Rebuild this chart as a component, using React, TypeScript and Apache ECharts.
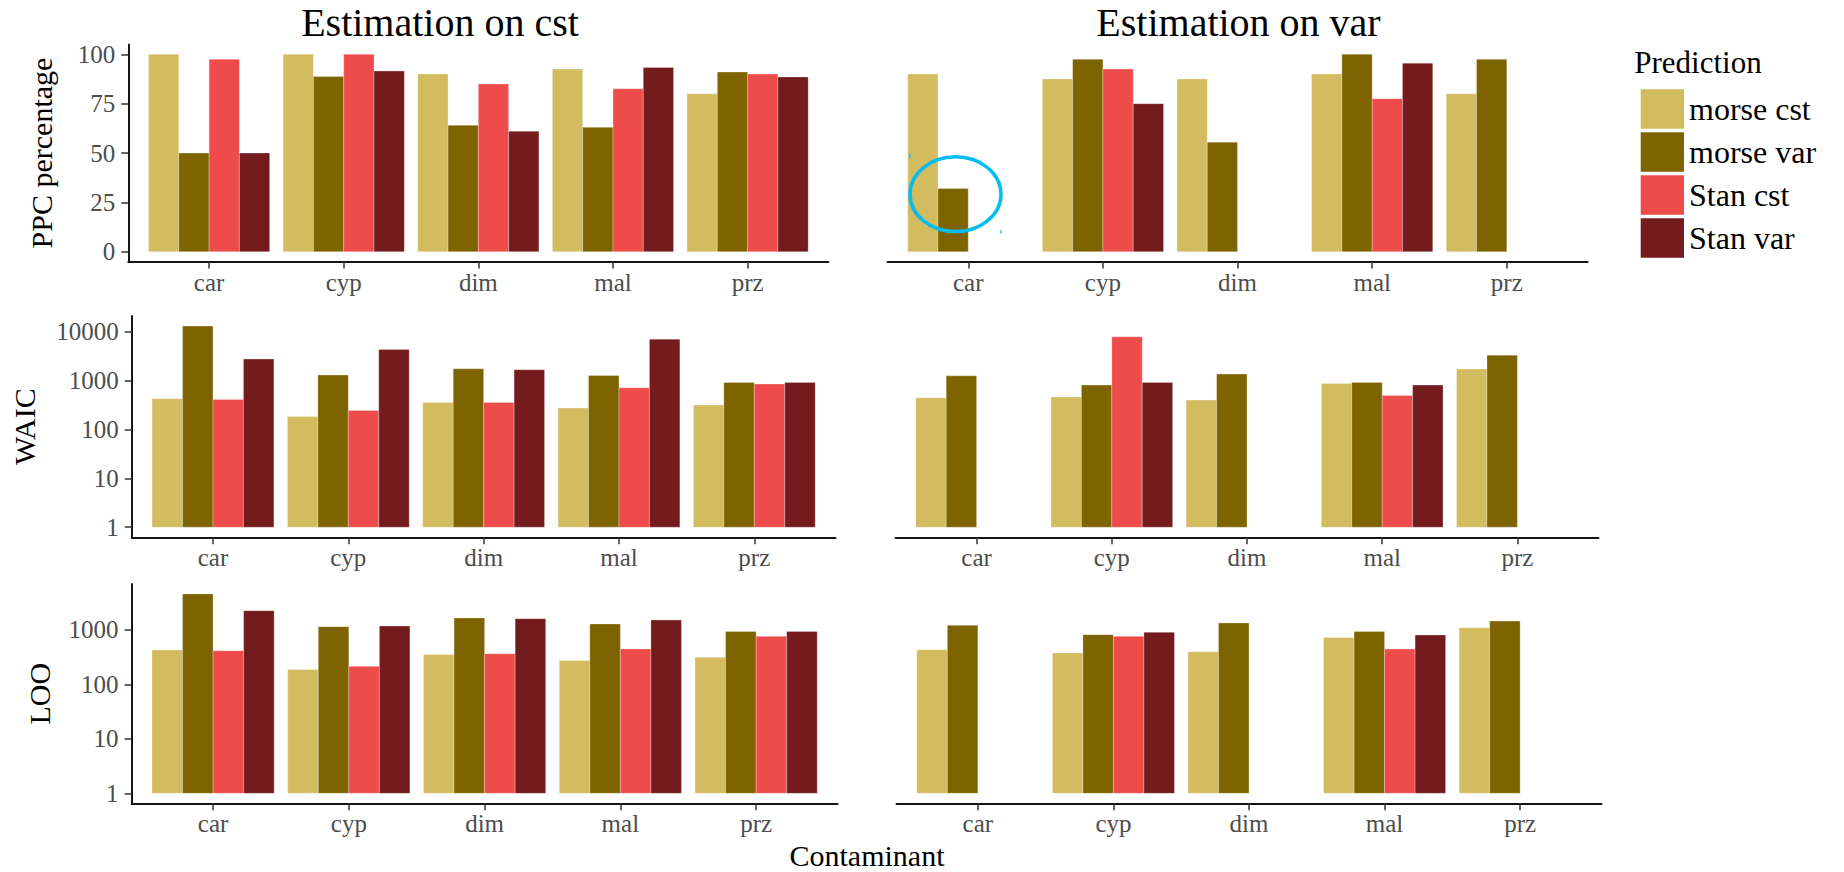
import React, { useEffect, useRef } from 'react';
import * as echarts from 'echarts';

// ---- data -------------------------------------------------------------
const contaminants = ['car', 'cyp', 'dim', 'mal', 'prz'];
const predictions = ['morse cst', 'morse var', 'Stan cst', 'Stan var'];
const predictionColors = ['#D3BB5F', '#7E6400', '#EE4B4B', '#741B1D'];

// PPC percentage
const ppcCstMorseCst = [100, 100, 90, 92.5, 80];
const ppcCstMorseVar = [50, 88.7, 64, 63, 91];
const ppcCstStanCst = [97.5, 100, 85, 82.5, 90];
const ppcCstStanVar = [50, 91.5, 61, 93.3, 88.5];
const ppcVarMorseCst = [90, 87.5, 87.5, 90, 80];
const ppcVarMorseVar = [32, 97.5, 55.5, 100, 97.5];
const ppcVarStanCst = [null, 92.5, null, 77.5, null];
const ppcVarStanVar = [null, 75, null, 95.5, null];

// WAIC
const waicCstMorseCst = [423, 184, 355, 272, 313];
const waicCstMorseVar = [12900, 1283, 1734, 1265, 910];
const waicCstStanCst = [409, 244, 355, 706, 840];
const waicCstStanVar = [2728, 4305, 1656, 6970, 910];
const waicVarMorseCst = [442, 456, 396, 868, 1702];
const waicVarMorseVar = [1240, 802, 1345, 910, 3280];
const waicVarStanCst = [null, 7760, null, 494, null];
const waicVarStanVar = [null, 910, null, 802, null];

// LOO
const looCstMorseCst = [428, 188, 355, 275, 313];
const looCstMorseVar = [4560, 1145, 1652, 1283, 938];
const looCstStanCst = [415, 214, 366, 446, 760];
const looCstStanVar = [2250, 1178, 1606, 1518, 938];
const looVarMorseCst = [433, 377, 398, 728, 1097];
const looVarMorseVar = [1210, 817, 1340, 938, 1456];
const looVarStanCst = [null, 760, null, 446, null];
const looVarStanVar = [null, 900, null, 805, null];

const ppcTicks = [0, 25, 50, 75, 100];
const waicTicks = [1, 10, 100, 1000, 10000];
const looTicks = [1, 10, 100, 1000];
const categoryTicks = [1, 2, 3, 4, 5];

const facetTitles = ['Estimation on cst', 'Estimation on var'];

// ---- layout -----------------------------------------------------------
const FONT = 'Liberation Serif';
const DODGE = 0.9;

const rowFrames = [
  { top: 44.4, bottom: 261.6, cols: [[128.3, 828.4], [887.5, 1587.6]] },
  { top: 316, bottom: 537.3, cols: [[131.8, 835.5], [895.5, 1598.5]] },
  { top: 584, bottom: 803.3, cols: [[131.6, 837.6], [896.5, 1601.5]] },
];

const metrics = [
  {
    name: 'PPC percentage',
    log: false,
    ticks: ppcTicks,
    panels: [
      [ppcCstMorseCst, ppcCstMorseVar, ppcCstStanCst, ppcCstStanVar],
      [ppcVarMorseCst, ppcVarMorseVar, ppcVarStanCst, ppcVarStanVar],
    ],
    nameX: 41.7,
  },
  {
    name: 'WAIC',
    log: true,
    ticks: waicTicks,
    panels: [
      [waicCstMorseCst, waicCstMorseVar, waicCstStanCst, waicCstStanVar],
      [waicVarMorseCst, waicVarMorseVar, waicVarStanCst, waicVarStanVar],
    ],
    nameX: 24.5,
  },
  {
    name: 'LOO',
    log: true,
    ticks: looTicks,
    panels: [
      [looCstMorseCst, looCstMorseVar, looCstStanCst, looCstStanVar],
      [looVarMorseCst, looVarMorseVar, looVarStanCst, looVarStanVar],
    ],
    nameX: 39,
  },
];

const tickLabelStyle = { fontFamily: FONT, fontSize: 25, color: '#4D4D4D' };
const axisLineStyle = { color: '#151515', width: 2 };
const axisTickStyle = { color: '#333333', width: 1.5 };

function barSeries(k: number, values: (number | null)[], xAxisIndex: number, yAxisIndex: number, base: number) {
  const data = values
    .map((v, i) => (v == null ? null : [i + 1, v]))
    .filter((d) => d !== null);
  return {
    type: 'custom',
    name: predictions[k],
    xAxisIndex,
    yAxisIndex,
    itemStyle: { color: predictionColors[k] },
    encode: { x: 0, y: 1 },
    data,
    renderItem: (_params: any, api: any) => {
      const c = api.value(0);
      const v = api.value(1);
      const left = c - DODGE / 2 + (k * DODGE) / 4;
      const p0 = api.coord([left, v]);
      const p1 = api.coord([left + DODGE / 4, base]);
      return {
        type: 'rect',
        shape: { x: p0[0], y: p0[1], width: p1[0] - p0[0], height: p1[1] - p0[1] },
        style: { fill: predictionColors[k], stroke: 'rgba(255,255,255,0.35)', lineWidth: 0.8 },
      };
    },
  };
}

function buildOption() {
  const grid: any[] = [];
  const xAxis: any[] = [];
  const yAxis: any[] = [];
  const series: any[] = [];
  const graphic: any[] = [];

  metrics.forEach((m, r) => {
    const frame = rowFrames[r];
    const all = m.panels.flat(2).filter((v) => v != null) as number[];
    const top = m.log ? Math.log10(Math.max(...all)) : Math.max(...all);
    const lo = -0.05 * top;
    const hi = 1.05 * top;

    m.panels.forEach((group, c) => {
      const [x0, x1] = frame.cols[c];
      const gi = grid.length;
      grid.push({
        left: x0,
        top: frame.top,
        width: x1 - x0,
        height: frame.bottom - frame.top,
        containLabel: false,
        outerBoundsMode: 'none',
      });
      const xi = xAxis.length;
      xAxis.push({
        type: 'value',
        gridIndex: gi,
        min: 0.4,
        max: 5.6,
        position: 'bottom',
        axisLine: { show: true, onZero: false, lineStyle: axisLineStyle },
        axisTick: { show: true, length: 7, lineStyle: axisTickStyle, customValues: categoryTicks },
        axisLabel: {
          ...tickLabelStyle,
          margin: 8,
          customValues: categoryTicks,
          formatter: (v: number) => contaminants[Math.round(v) - 1] ?? '',
        },
        splitLine: { show: false },
      });

      const tickAxis = {
        type: 'value',
        gridIndex: gi,
        position: 'left',
        show: c === 0,
        min: lo,
        max: hi,
        axisLine: { show: true, onZero: false, lineStyle: axisLineStyle },
        axisTick: {
          show: true,
          length: 7,
          lineStyle: axisTickStyle,
          customValues: m.log ? m.ticks.map((t) => Math.log10(t)) : m.ticks,
        },
        axisLabel: {
          ...tickLabelStyle,
          margin: 13,
          customValues: m.log ? m.ticks.map((t) => Math.log10(t)) : m.ticks,
          formatter: m.log ? (v: number) => String(Math.round(Math.pow(10, v))) : (v: number) => String(v),
        },
        splitLine: { show: false },
      };

      let dataAxis: number;
      if (m.log) {
        dataAxis = yAxis.length;
        yAxis.push({
          type: 'log',
          gridIndex: gi,
          position: 'left',
          show: false,
          min: Math.pow(10, lo),
          max: Math.pow(10, hi),
          splitLine: { show: false },
        });
        yAxis.push(tickAxis);
      } else {
        dataAxis = yAxis.length;
        yAxis.push(tickAxis);
      }

      group.forEach((vals, k) => {
        series.push(barSeries(k, vals, xi, dataAxis, m.log ? 1 : 0));
      });
    });

    graphic.push({
      type: 'text',
      x: m.nameX,
      y: (frame.top + frame.bottom) / 2,
      rotation: Math.PI / 2,
      style: {
        text: m.name,
        fontFamily: FONT,
        fontSize: 30,
        fill: '#000',
        align: 'center',
        verticalAlign: 'middle',
      },
    });
  });

  // facet titles
  [440, 1238.5].forEach((x, i) => {
    graphic.push({
      type: 'text',
      x,
      y: 22.2,
      style: { text: facetTitles[i], fontFamily: FONT, fontSize: 40, fill: '#000', align: 'center', verticalAlign: 'middle' },
    });
  });

  // x title
  graphic.push({
    type: 'text',
    x: 867,
    y: 855.5,
    style: { text: 'Contaminant', fontFamily: FONT, fontSize: 30, fill: '#000', align: 'center', verticalAlign: 'middle' },
  });

  // legend title
  graphic.push({
    type: 'text',
    x: 1634.3,
    y: 62.3,
    style: { text: 'Prediction', fontFamily: FONT, fontSize: 31, fill: '#000', align: 'left', verticalAlign: 'middle' },
  });

  // highlight around the car / morse var bar
  graphic.push({
    type: 'ellipse',
    z: 100,
    shape: { cx: 955.5, cy: 194.2, rx: 45.5, ry: 37.4 },
    style: { fill: 'none', stroke: '#00BDF2', lineWidth: 3.5 },
  });
  graphic.push({
    type: 'line',
    z: 100,
    shape: { x1: 910, y1: 154, x2: 910, y2: 158.5 },
    style: { stroke: '#00BDF2', lineWidth: 1.2 },
  });
  graphic.push({
    type: 'line',
    z: 100,
    shape: { x1: 1001, y1: 230, x2: 1001, y2: 233.5 },
    style: { stroke: '#00BDF2', lineWidth: 1.2 },
  });

  return {
    animation: false,
    backgroundColor: '#ffffff',
    grid,
    xAxis,
    yAxis,
    series,
    graphic,
    legend: {
      data: predictions,
      orient: 'vertical',
      left: 1635.7,
      top: 84.3,
      itemWidth: 43.3,
      itemHeight: 39.5,
      itemGap: 3.5,
      icon: 'rect',
      selectedMode: false,
      textStyle: { fontFamily: FONT, fontSize: 32, color: '#000' },
    },
  };
}

export default function App() {
  const ref = useRef<HTMLDivElement>(null);
  useEffect(() => {
    if (!ref.current) return;
    const chart = echarts.init(ref.current, undefined, { renderer: 'svg' });
    chart.setOption(buildOption() as any);
    return () => chart.dispose();
  }, []);
  return (
    <div
      ref={ref}
      style={{ position: 'fixed', left: 0, top: 0, width: 1844, height: 872, background: '#fff' }}
    />
  );
}
